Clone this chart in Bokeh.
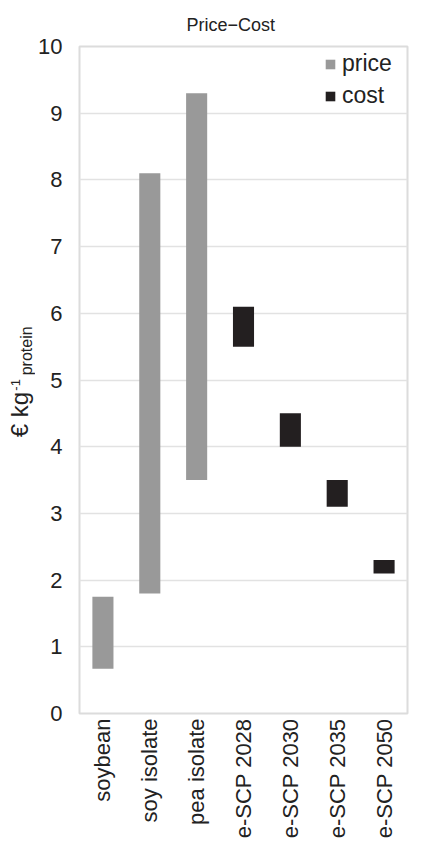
import math
from bokeh.plotting import figure
from bokeh.layouts import row
from bokeh.models import ColumnDataSource, Range1d, FixedTicker, Legend, LegendItem
from bokeh.core.properties import value
from bokeh.embed import file_html
from bokeh.resources import INLINE

categories = ["soybean", "soy isolate", "pea isolate", "e-SCP 2028", "e-SCP 2030", "e-SCP 2035", "e-SCP 2050"]
price_cats = ["soybean", "soy isolate", "pea isolate"]
price_low = [0.67, 1.8, 3.5]
price_high = [1.75, 8.1, 9.3]
cost_cats = ["e-SCP 2028", "e-SCP 2030", "e-SCP 2035", "e-SCP 2050"]
cost_low = [5.5, 4.0, 3.1, 2.1]
cost_high = [6.1, 4.5, 3.5, 2.3]
y_ticks = [0, 1, 2, 3, 4, 5, 6, 7, 8, 9, 10]
y_label_parts = ["\u20ac kg", "-1", "protein"]

FONT = "Liberation Sans"
TXT = "#222222"
FRAME_H = 667
TOP, BOTTOM = 46, 133

yr = Range1d(0, 10)

# ---- left strip carrying the y-axis title (with super/subscript) ----
lab = figure(frame_width=35, frame_height=FRAME_H, x_range=Range1d(0, 35), y_range=yr,
             min_border_left=0, min_border_right=0, min_border_top=TOP, min_border_bottom=BOTTOM,
             x_axis_type=None, y_axis_type=None,
             output_backend="svg", toolbar_location=None)
lab.grid.visible = False
lab.outline_line_color = None
lab.border_fill_color = "white"
lab.background_fill_color = "white"
lab_src = ColumnDataSource(dict(x=[19, 15, 26], y=[4.14, 4.84, 5.07], text=y_label_parts,
                                size=["24px", "13px", "16px"]))
lab.text(x="x", y="y", text="text", source=lab_src, angle=math.pi / 2,
         text_font=value(FONT), text_font_size="size", text_color=TXT,
         text_align="left", text_baseline="alphabetic")

# ---- main chart ----
p = figure(x_range=categories, y_range=yr,
           frame_width=328, frame_height=FRAME_H,
           min_border_left=40, min_border_right=20, min_border_top=TOP, min_border_bottom=BOTTOM,
           output_backend="svg", toolbar_location=None, title="Price\u2212Cost")

p.title.align = "left"
p.title.offset = 107
p.title.standoff = 24
p.title.text_font = FONT
p.title.text_font_size = "18px"
p.title.text_font_style = "normal"
p.title.text_color = TXT

price_src = ColumnDataSource(dict(x=price_cats, bottom=price_low, top=price_high))
cost_src = ColumnDataSource(dict(x=cost_cats, bottom=cost_low, top=cost_high))

r1 = p.vbar(x="x", bottom="bottom", top="top", width=0.45, source=price_src,
            fill_color="#999999", line_color=None)
r2 = p.vbar(x="x", bottom="bottom", top="top", width=0.45, source=cost_src,
            fill_color="#231f20", line_color=None)

legend = Legend(items=[LegendItem(label="price", renderers=[r1]),
                       LegendItem(label="cost", renderers=[r2])],
                location="top_right")
legend.label_text_font = FONT
legend.label_text_font_size = "23px"
legend.label_text_color = TXT
legend.glyph_width = 12
legend.glyph_height = 12
legend.label_height = 26
legend.label_width = 61
legend.label_standoff = 6
legend.spacing = 5
legend.padding = 0
legend.margin = 4
legend.border_line_color = None
legend.background_fill_alpha = 0
p.add_layout(legend)

p.yaxis.ticker = FixedTicker(ticks=y_ticks)
p.yaxis.major_label_text_font = FONT
p.yaxis.major_label_text_font_size = "22px"
p.yaxis.major_label_text_color = TXT
p.yaxis.axis_line_color = None
p.yaxis.major_tick_line_color = None
p.yaxis.major_tick_out = 0
p.yaxis.major_tick_in = 0
p.yaxis.minor_tick_line_color = None
p.yaxis.minor_tick_out = 0
p.yaxis.axis_label_standoff = 0
p.yaxis.major_label_standoff = 17

p.xaxis.major_label_orientation = math.pi / 2
p.xaxis.major_label_text_font = FONT
p.xaxis.major_label_text_font_size = "22px"
p.xaxis.major_label_text_color = TXT
p.xaxis.axis_line_color = None
p.xaxis.major_tick_line_color = None
p.xaxis.major_tick_out = 0
p.xaxis.major_tick_in = 0
p.xaxis.minor_tick_line_color = None
p.xaxis.major_label_standoff = 5

p.xgrid.grid_line_color = None
p.ygrid.grid_line_color = "#e2e2e2"
p.ygrid.grid_line_width = 1.5
p.outline_line_color = "#dcdcdc"
p.outline_line_width = 2
p.background_fill_color = "white"
p.border_fill_color = "white"

layout = row(lab, p, spacing=0)
open("out.html", "w").write(file_html(layout, INLINE))
